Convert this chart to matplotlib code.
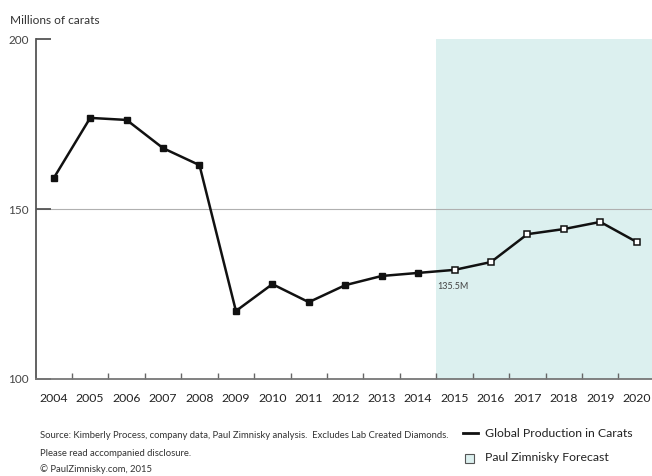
import matplotlib.pyplot as plt
import numpy as np

plt.rcParams['font.family'] = ['Lato', 'DejaVu Sans']

years = list(range(2004, 2021))
carats = [159.1, 176.8, 176.2, 167.9, 162.9, 120.0, 127.9, 122.6, 127.6,
          130.3, 131.2, 132.1, 134.4, 142.6, 144.1, 146.2, 140.3]
last_actual = 2014
yticks = [100, 150, 200]

fig = plt.figure(figsize=(6.52, 4.76), dpi=100)
ax = fig.add_axes([0.0545, 0.2038, 0.9455, 0.7142])

ax.set_xlim(2003.5, 2020.42)
ax.set_ylim(100, 200)

# forecast shading
ax.axvspan(last_actual + 0.5, 2020.42, color='#dcf0ef', zorder=0, lw=0)
ax.axhline(150, color='#b0b0b0', lw=0.8, zorder=1)

yrs = np.array(years)
vals = np.array(carats)
ax.plot(yrs, vals, color='#111111', lw=1.8, zorder=2)
act = yrs <= last_actual
ax.plot(yrs[act], vals[act], 's', ms=4.5, color='#111111', zorder=3)
ax.plot(yrs[~act], vals[~act], 's', ms=5, mfc='white', mec='#111111', mew=1.1, zorder=3)

ax.annotate('135.5M', (2015, carats[11]), xytext=(-1, -14), textcoords='offset points',
            ha='center', fontsize=6.5, color='#444444')

for s in ['top', 'right']:
    ax.spines[s].set_visible(False)
ax.spines['left'].set_color('#555555')
ax.spines['left'].set_linewidth(1.3)
ax.spines['bottom'].set_color('#777777')
ax.spines['bottom'].set_linewidth(1.3)

ax.set_yticks(yticks)
ax.set_yticklabels([str(v) for v in yticks], fontsize=8.5, color='#444444')
ax.tick_params(axis='y', direction='in', length=11, width=1.3, color='#555555', pad=5)

ax.set_xticks([y + 0.5 for y in years[:-1]])
ax.set_xticklabels([])
ax.set_xticks(years, minor=True)
ax.set_xticklabels([str(y) for y in years], minor=True, fontsize=8.8, color='#222222')
ax.tick_params(axis='x', which='major', direction='in', length=4, width=1, color='#666666')
ax.tick_params(axis='x', which='minor', length=0, pad=10)

fig.text(0.016, 0.957, 'Millions of carats', fontsize=8.6, color='#333333', ha='left', va='center')

fig.text(0.061, 0.086, 'Source: Kimberly Process, company data, Paul Zimnisky analysis.  Excludes Lab Created Diamonds.',
         fontsize=6.8, color='#333333', ha='left', va='center')
fig.text(0.061, 0.048, 'Please read accompanied disclosure.', fontsize=6.8, color='#333333', ha='left', va='center')
fig.text(0.061, 0.015, '\u00a9 PaulZimnisky.com, 2015', fontsize=6.8, color='#333333', ha='left', va='center')

# legend
fig.lines.append(plt.Line2D([0.710, 0.733], [0.090, 0.090], color='#111111', lw=2, transform=fig.transFigure))
fig.patches.append(plt.Rectangle((0.713, 0.027), 0.0145, 0.019, facecolor='#dcf0ef', edgecolor='#555555',
                                 lw=0.8, transform=fig.transFigure))
fig.text(0.744, 0.090, 'Global Production in Carats', fontsize=8.8, color='#222222', ha='left', va='center')
fig.text(0.744, 0.038, 'Paul Zimnisky Forecast', fontsize=8.8, color='#222222', ha='left', va='center')

fig.savefig('out.png', dpi=100)
